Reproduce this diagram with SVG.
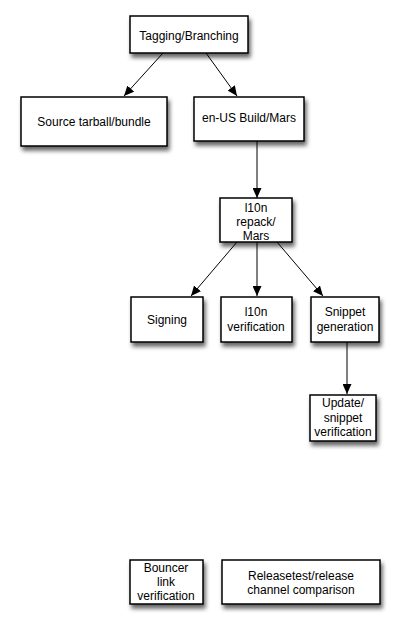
<svg xmlns="http://www.w3.org/2000/svg" width="402" height="629" viewBox="0 0 402 629">
<style>
.box{fill:#fff;stroke:#000;stroke-width:1.5;filter:url(#sh)}
.t{font-family:"Liberation Sans",Arial,sans-serif;font-size:12px;fill:#000;text-anchor:middle}
.c{stroke:#000;stroke-width:1;fill:none;marker-end:url(#ah)}
</style>
<defs>
<filter id="sh" x="-20%" y="-20%" width="150%" height="160%">
<feDropShadow dx="2" dy="4" stdDeviation="2.2" flood-color="#000" flood-opacity="0.6"/>
</filter>
<marker id="ah" markerWidth="11" markerHeight="9" refX="10" refY="4.5" orient="auto" markerUnits="userSpaceOnUse">
<path d="M0,0 L10,4.5 L0,9 Z" fill="#000"/>
</marker>
</defs>
<rect width="402" height="629" fill="#fff"/>
<g id="connectors">
<line class="c" x1="163" y1="53" x2="124" y2="96"/>
<line class="c" x1="206" y1="53" x2="237" y2="96"/>
<line class="c" x1="257" y1="141" x2="257" y2="198"/>
<line class="c" x1="237" y1="242" x2="191" y2="296"/>
<line class="c" x1="257" y1="242" x2="257" y2="296"/>
<line class="c" x1="277" y1="242" x2="323" y2="296"/>
<line class="c" x1="347" y1="342" x2="347" y2="394"/>
</g>
<g id="tagging"><rect class="box" x="130" y="16" width="118" height="37"/><text class="t" x="189" y="40">Tagging/Branching</text></g>
<g id="source"><rect class="box" x="21" y="97" width="146" height="49"/><text class="t" x="94" y="126">Source tarball/bundle</text></g>
<g id="enus"><rect class="box" x="194" y="97" width="110" height="44"/><text class="t" x="249" y="122">en-US Build/Mars</text></g>
<g id="l10nrepack"><rect class="box" x="220" y="198" width="72" height="44"/><text class="t" x="256" y="212">l10n</text><text class="t" x="256" y="226">repack/</text><text class="t" x="256" y="240">Mars</text></g>
<g id="signing"><rect class="box" x="131" y="297" width="72" height="45"/><text class="t" x="167" y="324">Signing</text></g>
<g id="l10nverif"><rect class="box" x="221" y="297" width="71" height="45"/><text class="t" x="256" y="316">l10n</text><text class="t" x="256" y="331">verification</text></g>
<g id="snippet"><rect class="box" x="311" y="297" width="68" height="45"/><text class="t" x="345" y="316">Snippet</text><text class="t" x="345" y="331">generation</text></g>
<g id="update"><rect class="box" x="310" y="395" width="66" height="46"/><text class="t" x="343" y="407">Update/</text><text class="t" x="343" y="422">snippet</text><text class="t" x="343" y="436">verification</text></g>
<g id="bouncer"><rect class="box" x="130" y="560" width="73" height="44"/><text class="t" x="166" y="572">Bouncer</text><text class="t" x="166" y="586">link</text><text class="t" x="166" y="600">verification</text></g>
<g id="releasetest"><rect class="box" x="222" y="560" width="158" height="44"/><text class="t" x="301" y="580">Releasetest/release</text><text class="t" x="301" y="594">channel comparison</text></g>
</svg>
